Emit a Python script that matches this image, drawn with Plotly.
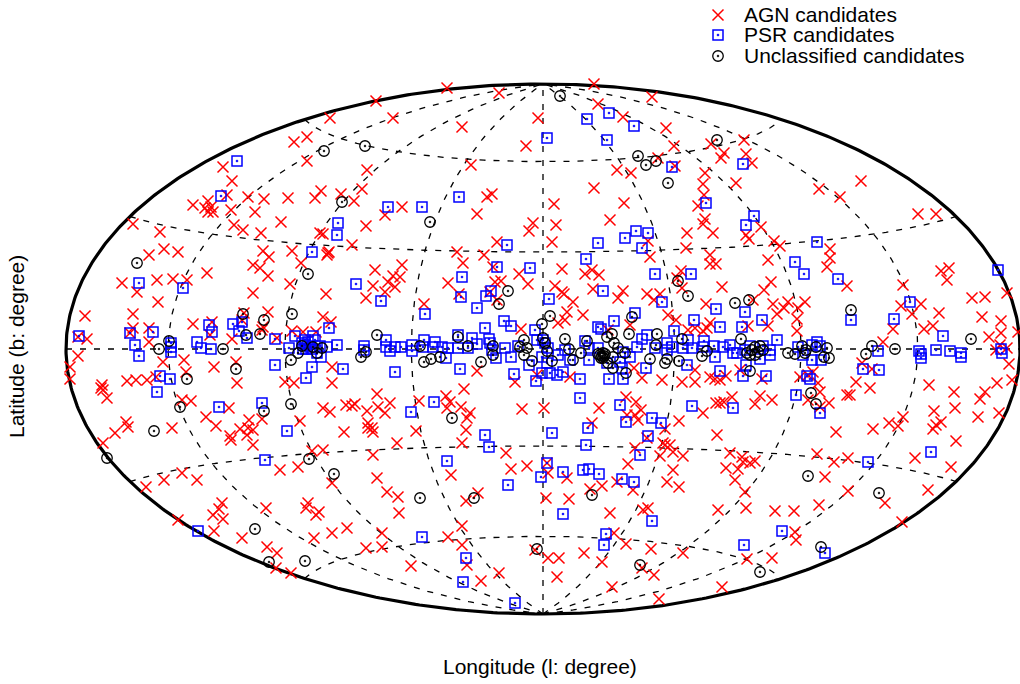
import numpy as np
import plotly.graph_objects as go

# Source positions on the Hammer map plane (half-width 47.7, half-height 26.5 map units)
agn_x = [-16.7,-21.3,-23.6,-24.9,-23.6,-17.6,-32.0,-31.1,-18.1,-22.2,-20.2,-22.8,-18.9,-25.5,-27.9,-29.5,-31.6,-35.0,-33.5,-33.8,-33.2,-33.0,-33.5,-31.2,-28.8,-26.2,-30.9,-30.0,-28.2,-41.0,-38.3,-17.7,-22.3,-22.0,-37.9,-36.5,-39.4,-19.1,-28.0,-27.4,-25.1,-21.5,-21.4,-21.6,
 -9.6,-4.4,5.1,10.9,5.5,-15.0,-8.1,-0.5,8.0,12.3,-1.7,13.1,11.5,13.2,-7.2,7.4,8.8,5.1,-5.1,-5.6,1.1,8.1,-6.6,-14.1,-15.8,15.5,-1.0,-1.4,1.3,6.7,14.4,0.9,-4.6,10.5,14.3,-8.6,-5.9,10.7,
 16.8,20.1,18.1,17.8,20.3,20.9,16.2,19.3,16.0,16.1,27.6,29.7,31.8,37.5,39.3,16.2,16.0,17.0,21.8,20.3,20.6,23.1,23.7,28.7,28.7,16.7,22.5,
 -42.1,-38.6,-37.0,-35.6,-33.6,-40.6,-38.5,-41.0,-45.8,-35.0,-41.0,-39.4,-41.3,-39.4,-46.5,-45.6,-46.5,-38.0,-35.9,-35.7,-32.9,-47.3,-47.3,-41.6,-40.7,-39.6,-38.7,-44.1,-44.2,-44.0,-43.6,-36.1,-35.2,-33.7,-32.7,-41.7,-41.5,-42.8,-37.1,-33.1,-33.3,
 -29.0,-28.3,-27.5,-24.2,-25.3,-29.0,-21.7,-17.0,-17.7,-16.8,-27.5,-29.9,-22.0,-30.1,-28.0,-28.1,-21.2,-31.1,-25.1,-24.0,-26.6,-22.7,-30.7,-30.6,-21.1,-25.8,-24.9,-21.1,-16.6,-22.0,-21.3,-19.7,-19.1,-18.8,-17.6,-16.5,-31.4,-28.1,-29.4,-24.3,-30.3,-29.5,-29.0,-29.6,-31.3,-19.9,-17.5,-17.5,-17.0,-17.1,
 -14.1,-15.0,-14.3,-15.5,-14.8,-15.8,-9.5,-8.4,-11.9,-8.0,-5.0,-2.4,-1.5,-5.3,-4.8,-4.2,-4.6,-2.2,-6.6,-2.8,-0.6,-15.3,-15.8,-12.4,-9.7,-9.3,-9.6,-8.2,-7.9,-7.3,-7.6,-7.7,-12.7,-2.1,
 1.9,4.2,4.9,5.6,1.2,1.9,2.1,3.0,5.0,8.0,7.5,10.4,11.7,11.1,13.8,13.4,13.9,12.5,13.3,2.4,4.0,2.2,1.5,8.7,6.5,15.2,14.5,9.1,9.9,11.9,13.9,15.2,15.2,2.7,8.3,9.3,5.6,0.1,9.8,9.2,8.4,9.5,4.9,13.6,12.2,10.4,
 16.7,17.3,28.4,17.9,22.8,22.1,30.4,16.3,21.0,23.0,24.5,26.2,23.4,24.1,25.5,25.4,25.4,22.5,20.5,16.7,16.4,16.0,19.7,16.7,17.2,17.7,18.3,21.9,25.7,27.0,26.5,27.5,27.7,27.7,26.5,28.6,31.3,30.4,30.7,18.9,17.3,17.7,18.1,21.7,21.2,22.9,16.0,17.4,29.3,
 39.8,40.6,40.4,36.0,46.4,42.9,44.2,35.8,37.8,36.9,39.6,43.9,45.8,35.0,39.0,38.1,45.8,47.5,44.6,34.0,46.4,45.7,45.3,46.6,46.9,32.7,45.4,38.6,41.1,44.2,43.7,41.2,39.1,43.5,45.6,36.0,34.6,35.5,33.0,39.8,39.3,39.0,32.9,31.9,
 -44.0,-29.0,-31.2,-23.1,-22.0,-17.0,-24.5,-26.3,-36.1,-37.9,-34.6,-39.7,-21.1,-16.6,-32.1,-32.4,-33.0,-32.0,-27.7,-23.5,-23.7,-22.4,-22.7,-36.5,-32.9,-30.1,-27.6,-26.6,-22.9,-21.1,-19.6,-17.7,-26.7,-25.2,
 -14.6,-8.1,-3.7,-3.2,-1.6,-9.2,0.4,0.5,2.4,8.5,9.2,11.7,13.0,14.0,13.0,12.4,13.6,5.9,4.7,7.4,9.0,-15.6,-14.5,-6.5,-7.7,0.3,2.6,-14.4,6.7,10.0,10.5,-8.1,-9.5,-8.1,7.1,8.3,10.8,14.0,-16.1,-16.1,-0.8,0.5,1.6,4.1,5.9,-13.2,-7.6,-4.4,-6.2,1.4,9.9,11.1,6.9,11.6,12.0,12.7,12.2,
 18.7,19.9,20.0,20.7,21.2,18.3,19.5,19.2,20.2,20.3,17.5,23.2,25.1,27.4,29.1,30.5,28.2,30.5,27.6,34.2,35.9,37.2,40.8,38.5,41.3,25.2,25.3,20.4,22.9,17.9]
agn_y = [24.8,23.1,21.2,20.7,18.8,17.9,18.2,16.8,16.0,15.8,15.5,15.1,14.8,15.1,15.0,15.2,15.4,14.4,14.8,14.1,14.2,13.7,13.7,13.9,13.7,12.7,12.4,11.9,11.6,12.5,11.7,12.3,11.6,11.5,10.0,9.7,9.4,10.4,9.8,9.2,9.8,9.6,9.7,9.4,
 26.1,25.6,26.5,25.2,24.5,23.1,22.2,23.1,23.2,22.1,20.3,20.3,19.1,18.3,18.4,17.9,17.6,16.1,15.5,15.2,14.5,14.6,13.5,14.2,13.4,14.3,12.6,11.8,12.4,12.9,11.6,10.7,10.7,10.8,10.1,9.7,9.4,9.2,
 20.5,20.9,19.6,19.1,19.5,18.6,17.6,16.6,16.5,15.4,16.0,15.2,16.8,13.5,13.5,13.0,12.5,11.6,12.2,11.4,11.0,10.8,10.3,10.0,9.1,9.4,8.9,
 6.6,6.9,7.0,6.9,7.6,5.7,4.7,3.5,3.3,2.5,2.1,2.1,1.6,0.7,1.2,1.0,-0.7,-1.3,-1.1,-2.3,-1.8,-1.8,-3.0,-3.2,-3.1,-3.1,-2.8,-3.6,-3.9,-4.1,-4.9,-5.1,-5.2,-6.8,-7.7,-7.3,-7.8,-8.4,-7.9,2.7,1.4,
 8.4,8.1,7.3,8.6,6.5,5.6,5.5,6.3,5.1,7.9,3.7,3.6,3.2,2.9,2.2,1.9,2.7,1.0,1.8,1.7,1.1,1.7,-1.3,-3.4,-1.8,-3.3,-3.4,-3.4,-4.5,-5.9,-6.3,-5.6,-5.7,-5.5,-6.2,-5.8,-5.9,-7.0,-7.1,-7.2,-8.0,-7.9,-8.1,-8.6,-8.7,-8.3,-7.4,-7.9,-8.3,-7.9,
 8.4,7.3,7.2,6.7,6.2,5.7,6.6,5.5,4.5,8.6,8.2,7.5,6.5,5.7,6.7,6.8,4.9,2.0,-2.2,-3.3,-2.6,-5.4,-6.4,-5.2,-4.7,-5.3,-5.9,-5.8,-4.0,-6.4,-6.9,-8.1,-8.2,-6.0,
 8.0,7.5,7.9,7.4,6.3,5.7,5.5,4.7,6.0,5.8,5.1,5.5,5.5,4.9,7.8,7.1,6.1,3.4,2.9,3.7,3.4,2.9,2.6,2.4,1.9,2.1,1.9,-1.9,-2.9,-3.1,-3.3,-2.1,-3.3,-2.8,-4.8,-5.3,-5.9,-5.9,-6.1,-6.6,-6.6,-7.1,-7.4,-7.2,-8.0,-8.9,
 8.5,8.5,8.2,6.2,6.7,5.9,6.3,4.5,4.9,4.5,4.7,4.7,3.5,4.1,4.1,3.0,1.8,2.3,2.3,2.6,2.1,1.8,-2.1,-2.8,-3.0,-3.1,-2.7,-3.0,-2.8,-2.3,-2.6,-3.4,-4.3,-5.8,-5.1,-5.4,-3.3,-4.6,-4.6,-4.8,-5.4,-5.4,-5.3,-4.7,-5.5,-5.1,-6.4,-8.6,-8.3,
 7.8,8.1,6.9,6.4,5.6,5.1,5.2,4.3,4.5,3.5,3.6,3.2,2.8,2.0,2.3,2.0,1.6,1.7,1.2,0.7,0.1,0.4,-0.1,-1.5,-3.1,-3.9,-3.4,-3.6,-4.3,-4.3,-5.0,-5.9,-6.2,-6.8,-6.4,-6.8,-7.4,-7.7,-8.0,-7.3,-7.6,-8.0,-2.0,-1.4,
 -9.4,-9.6,-9.1,-10.2,-10.1,-10.6,-11.8,-12.1,-12.4,-13.1,-13.1,-13.8,-13.4,-12.9,-15.4,-16.0,-16.6,-17.0,-15.9,-15.4,-15.9,-16.3,-16.6,-17.1,-18.2,-18.9,-19.8,-20.4,-18.9,-18.4,-17.9,-19.9,-21.9,-22.4,
 -9.4,-9.4,-10.4,-12.0,-11.7,-12.6,-11.4,-12.4,-12.9,-11.5,-9.9,-10.7,-10.3,-10.7,-12.1,-13.3,-13.8,-13.7,-14.0,-13.3,-14.1,-14.3,-14.8,-14.4,-15.2,-14.9,-15.0,-16.4,-16.4,-16.1,-15.9,-17.7,-18.8,-19.6,-18.4,-19.5,-20.0,-20.4,-18.4,-19.8,-20.1,-20.9,-20.9,-20.4,-21.3,-21.7,-21.6,-22.4,-23.2,-22.8,-21.9,-22.6,-23.8,-25.0,-9.4,-9.6,-9.6,
 -10.4,-10.8,-11.3,-11.4,-11.2,-11.9,-12.0,-13.1,-14.3,-15.9,-16.1,-16.2,-16.2,-10.5,-11.3,-10.9,-12.8,-14.2,-15.6,-15.4,-17.3,-10.9,-11.8,-14.1,-9.2,-18.3,-19.1,-21.0,-20.9,-23.8]

psr_x = [-30.6,-32.2,-20.5,-20.6,-23.1,
 6.6,4.4,9.1,0.4,6.4,12.9,-8.4,-15.5,-12.1,-3.6,5.5,8.2,9.3,10.5,9.9,4.3,
 20.0,16.3,21.1,20.3,27.4,25.2,
 -40.4,-36.0,-46.4,-41.3,-39.0,-40.8,-40.4,-37.2,-37.2,-37.2,-34.6,-34.2,-33.2,-33.4,-33.1,-38.3,-37.3,-38.6,-32.4,
 -18.7,-31.0,-30.1,-30.4,-29.6,-26.8,-24.8,-25.4,-23.0,-23.8,-23.8,-23.7,-23.3,-22.8,-22.3,-21.6,-20.6,-21.4,-22.2,-22.6,-17.9,-17.9,-26.8,-23.1,-20.0,-23.7,-28.1,-25.6,-24.1,-23.5,-23.1,-24.0,
 -4.6,-1.3,-8.1,-8.2,-5.2,-5.7,-16.2,-6.6,-11.8,-3.9,-3.2,-5.8,-7.1,-8.5,-5.4,-15.7,-15.7,-15.3,-14.8,-14.2,-13.1,-13.1,-11.9,-12.0,-10.8,-11.0,-10.1,-9.5,-8.5,-7.5,-6.6,-5.3,-5.1,-4.7,-3.8,-3.2,-2.5,-1.4,-0.8,-0.6,-8.3,-14.8,-2.9,-0.7,-10.9,-13.2,-5.8,-9.7,
 11.2,14.8,0.6,6.0,11.9,9.2,7.1,15.1,5.5,5.8,10.4,9.9,13.1,12.4,4.2,9.4,14.5,14.0,14.9,12.9,12.4,11.2,0.0,0.2,0.5,-0.1,0.4,0.7,1.4,2.0,-0.1,2.2,1.5,2.7,4.6,4.6,5.5,6.4,7.7,8.7,8.0,7.9,8.0,6.6,10.3,14.4,3.7,3.7,7.7,8.3,10.9,11.8,14.9,4.5,0.9,10.5,
 26.1,29.5,17.3,20.2,21.9,17.7,19.9,30.8,23.4,16.1,17.1,16.0,17.2,18.0,18.7,19.0,19.4,20.2,20.7,22.0,22.7,22.7,21.7,17.7,20.0,20.3,22.3,26.4,26.7,25.3,19.0,27.7,27.4,26.9,27.7,25.5,26.0,26.9,27.8,
 45.5,36.7,35.1,40.0,37.6,37.8,37.8,39.3,40.7,41.8,41.8,45.8,45.9,33.5,33.6,32.0,
 -27.8,-34.5,
 -5.4,4.3,-9.6,0.4,9.7,-0.2,2.0,4.0,4.6,5.6,7.9,9.1,-3.5,2.0,10.9,-12.1,6.3,6.1,-7.7,-8.0,-2.8,
 38.8,32.5,23.9,20.1,28.2]
psr_y = [18.8,15.3,12.6,11.4,9.7,
 23.6,23.0,22.3,21.1,20.9,18.2,15.2,14.2,14.2,10.4,10.6,11.1,11.8,11.6,10.1,9.0,
 18.5,14.6,13.3,12.4,10.7,8.7,
 6.6,6.1,1.3,1.6,1.7,0.4,-0.7,0.6,0.2,-0.3,0.7,0.1,0.0,2.4,1.7,-2.7,-3.0,-4.3,-5.8,
 6.5,2.5,2.7,1.8,1.1,1.0,1.3,0.1,1.3,0.9,0.4,0.0,0.2,0.9,0.3,0.2,0.4,2.1,-0.8,-0.4,0.3,-0.1,-1.6,-1.8,-2.0,-2.9,-5.4,-8.2,0.6,0.7,0.0,0.0,
 8.2,8.1,7.2,5.2,5.8,5.3,4.8,4.1,3.5,2.8,2.3,2.1,1.1,1.4,1.0,0.9,0.2,-0.2,0.2,0.2,0.4,-0.2,0.9,0.2,0.7,0.2,0.2,0.1,0.1,0.1,0.5,0.6,-0.1,-0.9,0.1,-0.8,0.3,-1.6,1.9,0.9,-2.0,-2.3,-2.5,-3.2,-5.3,-6.3,-8.6,-0.9,
 7.5,7.5,5.0,5.8,4.7,3.6,2.8,2.9,2.2,2.0,1.4,1.0,1.8,0.6,0.8,0.2,0.9,0.1,0.1,0.2,-0.1,0.1,0.9,0.6,0.1,-0.8,-1.4,-2.4,-2.6,-2.3,-2.4,-0.1,-0.6,-1.1,-1.1,0.1,0.1,-1.4,-1.3,-0.8,-0.3,-1.9,-3.0,-3.0,-1.9,-1.6,-3.0,-4.9,-5.6,-7.3,-6.9,-7.4,-5.7,-7.9,-8.4,-8.7,
 7.5,7.0,4.0,3.7,2.9,2.2,2.2,2.9,0.9,0.8,0.3,0.2,-0.8,0.2,0.4,-0.4,-0.4,-0.1,0.3,0.3,-0.1,-0.6,-1.0,-2.2,-2.7,-1.6,-2.7,-2.7,-3.0,-4.6,-5.9,-6.4,0.7,0.4,0.3,0.2,-0.6,-1.1,-1.1,
 7.9,4.7,3.0,1.3,-0.2,-0.5,-0.9,-0.1,-0.2,-0.4,-0.8,0.0,-0.4,-0.2,-2.1,-2.0,
 -11.1,-18.2,
 -9.8,-9.6,-11.2,-11.4,-10.6,-12.8,-12.3,-12.1,-12.0,-12.5,-13.0,-13.3,-13.6,-16.5,-17.2,-18.8,-18.5,-19.6,-20.9,-23.3,-25.4,
 -10.3,-11.3,-18.2,-19.6,-20.4]

unc_x = [-21.9,-17.8,-20.1,-40.6,
 1.7,9.5,10.3,11.3,12.5,-11.3,
 17.4,
 -37.4,-38.4,-35.6,-36.3,-38.9,
 -23.5,-30.0,-27.9,-25.1,-28.3,-29.7,-32.0,-24.1,-23.0,-24.5,-25.2,-22.1,-22.6,-30.7,-18.2,-17.7,-16.6,-25.2,-27.9,
 -3.5,-4.4,-12.3,-11.9,-11.2,-10.3,-8.5,-7.5,-6.2,-5.0,-5.0,-1.9,-2.3,-1.6,-1.9,-1.1,-9.1,
 13.5,14.5,0.7,-0.1,8.9,6.9,6.4,8.6,11.4,2.2,4.4,0.0,0.2,0.4,0.9,2.6,3.8,3.0,7.1,7.5,8.2,7.0,7.0,8.3,5.9,5.7,6.0,6.2,5.5,6.1,5.8,6.0,6.5,11.3,10.7,12.2,12.4,13.6,13.9,
 19.2,20.6,19.8,30.8,16.4,15.9,20.7,20.4,20.9,21.2,21.7,21.5,21.2,20.7,22.0,24.5,25.2,25.9,26.3,26.2,27.3,28.4,28.1,28.6,26.8,27.3,
 32.9,32.3,35.2,42.8,
 -43.6,-23.4,-20.9,-28.8,-27.4,-23.8,
 -12.3,-6.9,4.9,-0.6,9.7,
 26.5,33.6,27.8,21.7]
unc_y = [19.8,20.3,14.7,8.6,
 25.3,19.3,18.4,18.8,16.6,12.7,
 20.9,
 0.8,0.0,-3.0,-5.8,-8.2,
 7.5,3.5,2.9,3.5,1.5,1.4,0.0,0.3,0.2,-0.4,-1.1,0.1,-0.4,-2.0,-0.8,-0.3,1.4,-5.5,-6.2,
 5.8,4.5,0.3,-1.3,-1.0,-0.8,1.2,0.3,-1.3,0.3,-0.6,0.9,0.2,0.1,-0.6,-1.2,-6.9,
 6.8,5.3,3.3,2.5,3.2,1.5,1.2,1.5,1.5,1.0,0.8,1.1,0.6,-0.2,-1.2,0.0,-0.4,-1.1,0.6,0.1,-0.4,-0.8,-1.9,-2.4,-0.7,-0.6,-0.9,-0.5,-0.5,-0.7,-0.9,-0.4,-1.4,0.4,-1.0,-1.4,-1.0,-1.2,1.0,
 4.6,4.9,1.0,3.9,-0.2,-0.7,-2.2,-0.4,-0.1,0.2,0.3,-0.3,-0.6,-0.6,-0.1,-0.4,-0.5,0.3,-0.1,-0.4,0.2,0.1,-0.8,-0.9,-4.4,-5.5,
 0.3,-0.5,0.0,1.0,
 -10.9,-11.0,-12.5,-18.0,-21.3,-21.2,
 -14.9,-14.9,-14.6,-20.0,-21.6,
 -12.7,-14.4,-19.8,-22.3]

assert len(agn_x) == len(agn_y) and len(psr_x) == len(psr_y) and len(unc_x) == len(unc_y)

series_names = ["AGN candidates", "PSR candidates", "Unclassified candidates"]
grid_lons = [-135, -90, -45, 0, 45, 90, 135]
grid_lats = [-60, -30, 0, 30, 60]
x_label = "Longitude (l: degree)"
y_label = "Latitude (b: degree)"

HW, HH = 47.7, 26.5

def hammer(lon, lat):
    lam, phi = np.radians(lon) / 2, np.radians(lat)
    d = np.sqrt(1 + np.cos(phi) * np.cos(lam))
    return HW * np.cos(phi) * np.sin(lam) / d, HH * np.sin(phi) / d

fig = go.Figure()
dash = dict(color="black", width=1.3, dash="6px,8px")
for lon in grid_lons:
    gx, gy = hammer(np.full(181, float(lon)), np.linspace(-90, 90, 181))
    fig.add_trace(go.Scatter(x=gx, y=gy, mode="lines", line=dash, hoverinfo="skip", showlegend=False))
for lat in grid_lats:
    gx, gy = hammer(np.linspace(-180, 180, 361), np.full(361, float(lat)))
    fig.add_trace(go.Scatter(x=gx, y=gy, mode="lines", line=dash, hoverinfo="skip", showlegend=False))

t = np.linspace(-90, 90, 361)
fx, fy = hammer(np.r_[np.full(361, 180.0), np.full(361, -180.0)], np.r_[t, t[::-1]])
fig.add_trace(go.Scatter(x=fx, y=fy, mode="lines", line=dict(color="black", width=3.2),
                         hoverinfo="skip", showlegend=False))

styles = [
    dict(symbol="x-thin", size=11, color="red", line=dict(color="red", width=1.5)),
    dict(symbol="square-open-dot", size=10, color="blue", line=dict(color="blue", width=1.5)),
    dict(symbol="circle-open-dot", size=10.5, color="black", line=dict(color="black", width=1.3)),
]
for name, xs, ys, st in zip(series_names, (agn_x, psr_x, unc_x), (agn_y, psr_y, unc_y), styles):
    fig.add_trace(go.Scatter(x=xs, y=ys, mode="markers", name=name, marker=st, showlegend=False))

key_x, key_text_x = 17.5, 19.9
key_y = [33.4, 31.4, 29.3]
text_font = dict(family="Liberation Sans", size=21, color="black")
for name, ky, st in zip(series_names, key_y, styles):
    fig.add_trace(go.Scatter(x=[key_x], y=[ky], mode="markers", marker=st, hoverinfo="skip", showlegend=False))
    fig.add_annotation(x=key_text_x, y=ky + 0.1, text=name, showarrow=False, xanchor="left", yanchor="middle", font=text_font)

fig.add_annotation(x=-0.3, y=-31.7, text=x_label, showarrow=False, font=text_font)
fig.add_annotation(x=-52.7, y=0.2, text=y_label, showarrow=False, textangle=-90, font=text_font)

fig.update_layout(
    width=1020, height=684, autosize=False, showlegend=False,
    margin=dict(l=0, r=0, t=0, b=0), paper_bgcolor="white", plot_bgcolor="white",
    font=dict(family="Liberation Sans", color="black"),
)
fig.update_xaxes(range=[-54.3, 47.7], visible=False)
fig.update_yaxes(range=[-33.5, 34.9], visible=False)
fig.write_html("out.html", config=dict(displayModeBar=False),
               post_script="document.body.style.margin='0';document.documentElement.style.overflow='hidden';")
